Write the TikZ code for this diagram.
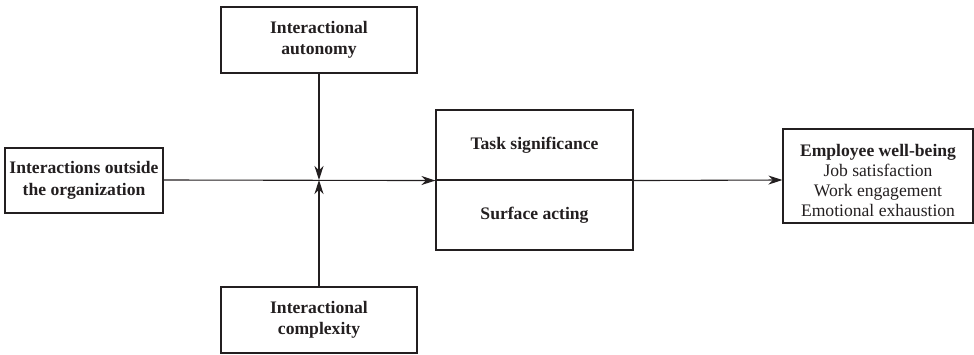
\documentclass[tikz,border=0pt]{standalone}
\usepackage{fontspec}
\setmainfont{Liberation Serif}
\usetikzlibrary{arrows.meta}
\definecolor{ink}{HTML}{231F20}
\tikzset{
  box/.style={draw=ink, line width=1.1pt, rectangle, inner sep=0pt, align=center, text=ink,
    font=\fontsize{17.6}{21.5}\selectfont\bfseries},
  conn/.style={draw=ink, line width=1.1pt},
  arr/.style={conn, -{Stealth[length=14pt,width=9pt,inset=4.5pt]}},
}
\begin{document}
\begin{tikzpicture}[x=1pt,y=-1pt]
\useasboundingbox (0,0) rectangle (974,355);
\node[box, minimum width=158pt, minimum height=65pt] (io) at (84,180.5) {Interactions outside\\the organization};
\node[box, minimum width=196pt, minimum height=66pt] (ia) at (319,40) {Interactional\\autonomy};
\node[box, minimum width=196pt, minimum height=66pt] (ic) at (319,320) {Interactional\\complexity};
\node[box, minimum width=197pt, minimum height=70pt] (ts) at (534.5,145) {Task significance};
\node[box, minimum width=197pt, minimum height=70pt] (sa) at (534.5,215) {Surface acting};
\node[box, minimum width=190pt, minimum height=94pt] (wb) at (878,176) {};
\node[align=center, text=ink, inner sep=0pt, font=\fontsize{17.6}{20}\selectfont] (wbt) at (878,180) {\textbf{Employee well-being}\\Job satisfaction\\Work engagement\\Emotional exhaustion};
\coordinate (j) at (319,180);
\draw[arr] (io.east |- j) -- (ts.south west);
\draw[arr] (ia.south) -- (j);
\draw[arr] (ic.north) -- (j);
\draw[arr] (ts.south east) -- (wb.west |- j);
\end{tikzpicture}
\end{document}
